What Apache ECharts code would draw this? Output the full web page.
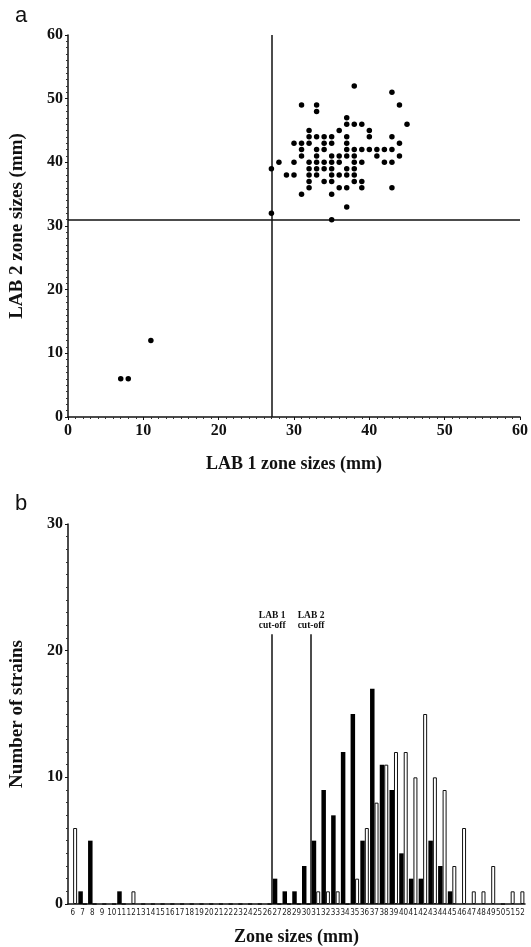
<!DOCTYPE html>
<html>
<head>
<meta charset="utf-8">
<script src="https://cdn.jsdelivr.net/npm/echarts@6/dist/echarts.min.js"></script>
<style>
  html, body { margin: 0; padding: 0; background: #fff; }
  #chart { width: 531px; height: 947px; }
</style>
</head>
<body>
<div id="chart"></div>
<script>
// panel a: one dot per strain (LAB 1 zone vs LAB 2 zone, mm)
const lab1Sizes = [
  38, 43, 31, 33, 44, 33, 37, 37, 38, 39, 45, 32, 36, 40,
  32, 33, 34, 35, 37, 40, 43, 30, 31, 32, 34, 35, 37, 44,
  31, 33, 34, 37, 38, 39, 40, 41, 42, 43, 31, 33, 35, 36, 37, 38, 41, 44,
  28, 30, 32, 33, 34, 35, 36, 38, 39, 42, 43, 27, 32, 33, 34, 35, 37, 38,
  29, 30, 32, 33, 35, 36, 37, 38, 32, 34, 35, 38, 39, 32, 36, 37, 39, 43,
  31, 35, 37, 27, 35, 11, 7, 8
]
const lab2Sizes = [
  52, 51, 49, 49, 49, 48, 47, 46, 46, 46, 46, 45, 45, 45,
  44, 44, 44, 44, 44, 44, 44, 43, 43, 43, 43, 43, 43, 43,
  42, 42, 42, 42, 42, 42, 42, 42, 42, 42, 41, 41, 41, 41, 41, 41, 41, 41,
  40, 40, 40, 40, 40, 40, 40, 40, 40, 40, 40, 39, 39, 39, 39, 39, 39, 39,
  38, 38, 38, 38, 38, 38, 38, 38, 37, 37, 37, 37, 37, 36, 36, 36, 36, 36,
  35, 35, 33, 32, 31, 12, 6, 6
]
const lab1Cutoff = 27
const lab2Cutoff = 31

// panel b: histogram of zone sizes
const zoneSizes = []
for (let z = 6; z <= 52; z++) zoneSizes.push(String(z))
const lab1Counts = [
  0, 1, 5, 0, 0, 1, 0, 0, 0, 0, 0, 0, 0, 0, 0, 0, 0, 0, 0, 0, 0,
  2, 1, 1, 3, 5, 9, 7, 12, 15, 5, 17, 11, 9, 4, 2, 2, 5, 3, 1,
  0, 0, 0, 0, 0, 0, 0
]
const lab2Counts = [
  6, 0, 0, 0, 0, 0, 1, 0, 0, 0, 0, 0, 0, 0, 0, 0, 0, 0, 0, 0, 0,
  0, 0, 0, 0, 1, 1, 1, 0, 2, 6, 8, 11, 12, 12, 10, 15, 10, 9, 3,
  6, 1, 1, 3, 0, 1, 1
]
// cut-offs sit between categories (26|27 and 30|31)
const histCutoffs = [
  { x: 26.5, top: 21.3, label: 'LAB 1\ncut-off' },
  { x: 30.5, top: 21.3, label: 'LAB 2\ncut-off' },
]

const serif = '"Liberation Serif", "DejaVu Serif", serif'
const sans = '"Liberation Sans", Arial, sans-serif'

const axisLine = { lineStyle: { color: '#111', width: 1.5 } }
const boldLabel = { fontFamily: serif, fontWeight: 'bold', fontSize: 16, color: '#111' }
const titleText = (size) => ({ fontFamily: serif, fontWeight: 'bold', fontSize: size, color: '#111' })

const chart = echarts.init(document.getElementById('chart'), null, { renderer: 'canvas' })

const option = {
  animation: false,
  backgroundColor: '#fff',
  title: [
    { text: 'a', left: 10, top: 0, textStyle: { fontFamily: sans, fontSize: 22, fontWeight: 'normal', color: '#111' } },
    { text: 'b', left: 10, top: 488, textStyle: { fontFamily: sans, fontSize: 22, fontWeight: 'normal', color: '#111' } },
  ],
  grid: [
    { left: 68, top: 35, width: 457, height: 382 },
    { left: 68, top: 524, width: 457, height: 381 },
  ],
  xAxis: [
    {
      gridIndex: 0, type: 'value', min: 0, max: 60, interval: 10,
      name: 'LAB 1 zone sizes (mm)', nameLocation: 'middle', nameGap: 38,
      nameTextStyle: titleText(18),
      axisLine, splitLine: { show: false },
      axisTick: { length: 3, lineStyle: { color: '#111' } },
      minorTick: { show: true, splitNumber: 10, length: 2, lineStyle: { color: '#333' } },
      axisLabel: { ...boldLabel, margin: 6 },
    },
    {
      gridIndex: 1, type: 'category', data: zoneSizes,
      name: 'Zone sizes (mm)', nameLocation: 'middle', nameGap: 24,
      nameTextStyle: titleText(18),
      axisLine, axisTick: { show: false },
      axisLabel: { interval: 0, fontFamily: '"DejaVu Sans Condensed", "DejaVu Sans", sans-serif', fontSize: 8, color: '#222', margin: 5 },
    },
    { gridIndex: 1, type: 'value', min: 5.5, max: 52.5, show: false },
  ],
  yAxis: [
    {
      gridIndex: 0, type: 'value', min: 0, max: 60, interval: 10,
      name: 'LAB 2 zone sizes (mm)', nameLocation: 'middle', nameGap: 41,
      nameTextStyle: titleText(19),
      axisLine, splitLine: { show: false },
      axisTick: { length: 3, lineStyle: { color: '#111' } },
      minorTick: { show: true, splitNumber: 10, length: 2, lineStyle: { color: '#333' } },
      axisLabel: { ...boldLabel, margin: 5 },
    },
    {
      gridIndex: 1, type: 'value', min: 0, max: 30, interval: 10,
      name: 'Number of strains', nameLocation: 'middle', nameGap: 41,
      nameTextStyle: titleText(19),
      axisLine, splitLine: { show: false },
      axisTick: { length: 3, lineStyle: { color: '#111' } },
      minorTick: { show: true, splitNumber: 10, length: 2, lineStyle: { color: '#333' } },
      axisLabel: { ...boldLabel, margin: 5 },
    },
  ],
  series: [
    {
      type: 'scatter', xAxisIndex: 0, yAxisIndex: 0,
      data: lab1Sizes.map((v, i) => [v, lab2Sizes[i]]),
      symbolSize: 5.5, itemStyle: { color: '#000', opacity: 1 },
      markLine: {
        silent: true, symbol: 'none', label: { show: false },
        lineStyle: { color: '#111', width: 1.5, type: 'solid' },
        data: [{ xAxis: lab1Cutoff }, { yAxis: lab2Cutoff }],
        z: 1,
      },
      z: 3,
    },
    {
      name: 'LAB 1', type: 'bar', xAxisIndex: 1, yAxisIndex: 1,
      data: lab1Counts, barWidth: 4.5, barGap: '0%',
      itemStyle: { color: '#000' },
    },
    {
      name: 'LAB 2', type: 'bar', xAxisIndex: 1, yAxisIndex: 1,
      data: lab2Counts, barWidth: 4, barGap: '0%',
      itemStyle: { color: '#fff', borderColor: '#111', borderWidth: 1 },
    },
    {
      type: 'line', xAxisIndex: 2, yAxisIndex: 1, data: [],
      markLine: {
        silent: true, symbol: 'none',
        lineStyle: { color: '#111', width: 1.5, type: 'solid' },
        label: {
          show: true, position: 'end', distance: 4,
          fontFamily: serif, fontWeight: 'bold', fontSize: 9.5, lineHeight: 10, color: '#111',
          formatter: (p) => p.data.labelText,
        },
        data: histCutoffs.map((c) => [
          { coord: [c.x, 0], labelText: c.label },
          { coord: [c.x, c.top], labelText: c.label },
        ]),
      },
    },
  ],
}

chart.setOption(option)
</script>
</body>
</html>
